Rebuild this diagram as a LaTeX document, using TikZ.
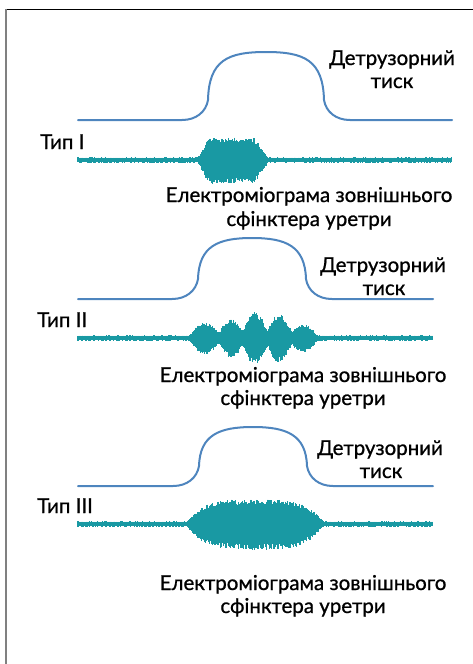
\documentclass[tikz,border=0pt]{standalone}
\usepackage{fontspec}
\setmainfont{Lato}
\newfontfamily\lblfont{Lato}[FakeBold=0.9]
\definecolor{detrblue}{RGB}{78,133,190}
\definecolor{emgteal}{RGB}{25,153,163}
\definecolor{framegray}{RGB}{128,128,128}
\newcommand{\detrcurve}[6]{% #1 xs, #2 xe, #3 y0, #4 centre, #5 half width, #6 top
  \draw[detr] (#1,#3) -- ({#4-#5-28},#3)
    .. controls ({#4-#5-14},#3) and ({#4-#5-4},{#3-8}) .. ({#4-#5-2},{#3-20})
    .. controls ({#4-#5-1},{#6+8}) and ({#4-#5+18},#6) .. (#4,#6)
    .. controls ({#4+#5-18},#6) and ({#4+#5+1},{#6+8}) .. ({#4+#5+2},{#3-20})
    .. controls ({#4+#5+4},{#3-8}) and ({#4+#5+14},#3) .. ({#4+#5+28},#3)
    -- (#2,#3);}
\newcommand{\emgtrace}[5]{% #1 xs, #2 xe, #3 steps, #4 y0, #5 envelope in \x
  \draw[emgteal, line width=4pt] (#1,#4) -- (#2,#4);
  \foreach \i in {0,...,#3}{%
    \pgfmathsetmacro\x{#1+0.8*\i}%
    \pgfmathsetmacro\amp{#5}%
    \pgfmathsetmacro\up{#4-(2.6+\amp)*(0.78+0.22*rnd)}%
    \pgfmathsetmacro\dn{#4+(2.6+\amp)*(0.80+0.25*rnd)}%
    \draw[emg] (\x,\up) -- (\x,\dn);
  }}
\begin{document}
\begin{tikzpicture}[x=1pt,y=-1pt,
  detr/.style={draw=detrblue, line width=2pt, line cap=round, line join=round},
  emg/.style={draw=emgteal, line width=1.1pt},
  lbl/.style={font=\lblfont\fontsize{20.5}{24}\selectfont, text=black, inner sep=0pt}]
\useasboundingbox (0,0) rectangle (473,664);
\pgfmathsetseed{7}
% frame
\draw[black, line width=1.3pt] (5,9.5) -- (473,9.5);
\draw[framegray, line width=2pt] (6,9) -- (6,664);
% ---------- panel 1
\detrcurve{78}{452}{120}{266}{56}{52}
\emgtrace{78}{452}{467}{160}{20*max(0,min(1,(\x-198)/11,(268-\x)/14))}
\node[lbl, anchor=base] (d1) at (392,65) {Детрузорний};
\node[lbl, anchor=base] (t1) at (392,88) {тиск};
\node[lbl, anchor=base west] (k1) at (40,149) {Тип I};
\node[lbl, anchor=base] (e1) at (309,202) {Електроміограма зовнішнього};
\node[lbl, anchor=base] (s1) at (309,226) {сфінктера уретри};
% ---------- panel 2
\detrcurve{78}{433}{299}{252}{52}{238}
\emgtrace{78}{433}{443}{338}{13*max(0,1-((\x-205)/15)*((\x-205)/15))+16*max(0,1-((\x-231)/13)*((\x-231)/13))+23*max(0,1-((\x-255)/13)*((\x-255)/13))+21*max(0,1-((\x-279)/13)*((\x-279)/13))+11*max(0,1-((\x-303)/14)*((\x-303)/14))}
\node[lbl, anchor=base] (d2) at (383,272) {Детрузорний};
\node[lbl, anchor=base] (t2) at (384,295) {тиск};
\node[lbl, anchor=base west] (k2) at (37,327) {Тип II};
\node[lbl, anchor=base] (e2) at (303,382) {Електроміограма зовнішнього};
\node[lbl, anchor=base] (s2) at (303,405) {сфінктера уретри};
% ---------- panel 3
\detrcurve{78}{433}{486}{253}{52}{427}
\emgtrace{78}{433}{443}{524}{22*max(0,1-((\x-255)/68)*((\x-255)/68)*((\x-255)/68)*((\x-255)/68))}
\node[lbl, anchor=base] (d3) at (380,455) {Детрузорний};
\node[lbl, anchor=base] (t3) at (381,478) {тиск};
\node[lbl, anchor=base west] (k3) at (37,513) {Тип III};
\node[lbl, anchor=base] (e3) at (303,590) {Електроміограма зовнішнього};
\node[lbl, anchor=base] (s3) at (303,613) {сфінктера уретри};
\end{tikzpicture}
\end{document}
